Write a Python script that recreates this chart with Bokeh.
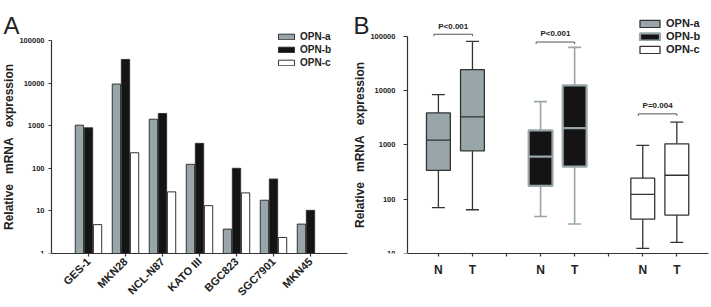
import math
from bokeh.plotting import figure
from bokeh.layouts import row
from bokeh.models import (Range1d, FixedTicker, NumeralTickFormatter,
                          ColumnDataSource, Label)
from bokeh.transform import dodge
from bokeh.core.properties import value
from bokeh.embed import file_html
from bokeh.resources import INLINE

# ---------------- data: panel A (cell lines) ----------------
cell_lines = ["GES-1", "MKN28", "NCL-N87", "KATO III", "BGC823", "SGC7901", "MKN45"]
opn_a = [1030, 9500, 1420, 124, 3.74, 17.8, 4.9]
opn_b = [890, 36000, 1940, 385, 100, 56, 10.3]
opn_c = [4.76, 232, 28, 13.3, 26.5, 2.38, float("nan")]

# ---------------- data: panel B (tissues, box plots) ----------------
isoforms = ["OPN-a", "OPN-b", "OPN-c"]
tissue = ["N", "T"]
whisker_low = [70, 64, 48, 35, 12.4, 16]
q1 = [340, 780, 177, 400, 43, 51]
median = [1230, 3300, 610, 2040, 123, 277]
q3 = [3900, 24500, 1860, 12600, 245, 1050]
whisker_high = [8500, 81000, 6300, 63000, 980, 2640]
p_labels = ["P<0.001", "P<0.001", "P=0.004"]
p_bracket_y = [110000, 79000, 3750]

y_ticks_a = [1, 10, 100, 1000, 10000, 100000]
y_ticks_b = [10, 100, 1000, 10000, 100000]
panel_letters = ["A", "B"]

FONT = "Liberation Sans"
GRAY = "#98a6a9"
BLACK = "#141414"
DARK = "#333333"
ylabel = "Relative\u00a0\u00a0\u00a0mRNA\u00a0\u00a0\u00a0expression"


def style_axes(p):
    p.xgrid.visible = False
    p.ygrid.visible = False
    p.outline_line_color = None
    for ax in (p.xaxis[0], p.yaxis[0]):
        ax.axis_line_color = DARK
        ax.axis_line_width = 1.2
        ax.major_tick_line_color = DARK
        ax.major_tick_line_width = 1.2
        ax.major_tick_in = 0
        ax.major_tick_out = 3
        ax.minor_tick_line_color = None
        ax.major_label_text_font = FONT
        ax.major_label_text_font_style = "bold"
        ax.major_label_text_color = "#222222"
        ax.axis_label_text_font = FONT
        ax.axis_label_text_font_style = "bold"
        ax.axis_label_text_color = "#222222"
    p.yaxis.axis_label = ylabel
    p.yaxis.axis_label_text_font_size = "12px"


def add_letter(p, letter, frame_w, frame_h, dx_px, baseline_px):
    """Panel letter placed in screen pixels from the frame's top-left."""
    xr, yr = p.x_range, p.y_range
    unit = frame_w / (xr.end - xr.start)
    x = xr.start + dx_px / unit
    lo, hi = math.log10(yr.start), math.log10(yr.end)
    y = 10 ** (hi - baseline_px * (hi - lo) / frame_h)
    p.add_layout(Label(x=x, y=y, text=letter, text_font=FONT,
                       text_font_size="24px", text_color="#222222",
                       text_baseline="alphabetic"))


def style_legend(p, loc, gw, gh, fs, spacing):
    lg = p.legend[0]
    lg.location = loc
    lg.glyph_width = gw
    lg.glyph_height = gh
    lg.label_height = gh
    lg.spacing = spacing
    lg.padding = 0
    lg.margin = 0
    lg.border_line_color = None
    lg.background_fill_alpha = 0
    lg.label_text_font = FONT
    lg.label_text_font_style = "bold"
    lg.label_text_font_size = fs
    lg.label_text_color = "#222222"
    lg.label_standoff = 4


# ================= Panel A =================
pA = figure(width=352, height=307, x_range=Range1d(-2.378, 7),
            y_range=Range1d(1, 10 ** 5.705), y_axis_type="log",
            output_backend="svg", toolbar_location=None,
            min_border_left=0, min_border_right=5,
            min_border_top=10, min_border_bottom=54)
style_axes(pA)

xs = list(range(len(cell_lines)))
srcA = ColumnDataSource(dict(x=xs, a=opn_a, b=opn_b, c=opn_c))
bw = 0.225
off = 0.245
pA.vbar(x=dodge("x", -off, range=pA.x_range), top="a", bottom=1, width=bw,
        source=srcA, fill_color=GRAY, line_color=DARK, line_width=1,
        legend_label="OPN-a")
pA.vbar(x="x", top="b", bottom=1, width=bw, source=srcA,
        fill_color=BLACK, line_color=DARK, line_width=1, legend_label="OPN-b")
pA.vbar(x=dodge("x", off, range=pA.x_range), top="c", bottom=1, width=bw,
        source=srcA, fill_color="white", line_color=DARK, line_width=1,
        legend_label="OPN-c")

pA.yaxis.fixed_location = -1
pA.yaxis.bounds = (y_ticks_a[0], y_ticks_a[-1])
pA.yaxis.ticker = FixedTicker(ticks=y_ticks_a, minor_ticks=[])
pA.yaxis.formatter = NumeralTickFormatter(format="0")
pA.yaxis.major_label_text_font_size = "7.5px"
pA.yaxis.major_label_standoff = 4
pA.yaxis.axis_label_standoff = 0
pA.xaxis.bounds = (-1, 7)
pA.xaxis.ticker = FixedTicker(ticks=xs, minor_ticks=[])
pA.xaxis.major_label_overrides = {i: n for i, n in zip(xs, cell_lines)}
pA.xaxis.major_label_orientation = math.pi / 4
pA.xaxis.major_label_text_font_size = "11px"
pA.xaxis.major_label_standoff = 3

style_legend(pA, (276, 185), 20, 7, "10px", 2)
add_letter(pA, panel_letters[0], 347, 243, 3, 15)

# ================= Panel B =================
pB = figure(width=359, height=307, x_range=Range1d(-1.522, 8.93),
            y_range=Range1d(10, 10 ** 5.479), y_axis_type="log",
            output_backend="svg", toolbar_location=None,
            min_border_left=0, min_border_right=3,
            min_border_top=10, min_border_bottom=54)
style_axes(pB)

styles = {
    "OPN-a": dict(fill=GRAY, line=DARK, lw=1.3, med=DARK, mlw=1.3, wlw=1.3),
    "OPN-b": dict(fill=BLACK, line=GRAY, lw=2.2, med=GRAY, mlw=2.2, wlw=1.6),
    "OPN-c": dict(fill="white", line=DARK, lw=1.3, med=DARK, mlw=1.3, wlw=1.3),
}
box_w = 0.7
cap_w = 0.38
positions = []
for gi, iso in enumerate(isoforms):
    st = styles[iso]
    idx = [2 * gi, 2 * gi + 1]
    px = [gi * 3 + 1 + k for k in range(2)]
    positions += px
    src = ColumnDataSource(dict(
        x=px,
        lo=[whisker_low[i] for i in idx], q1=[q1[i] for i in idx],
        med=[median[i] for i in idx], q3=[q3[i] for i in idx],
        hi=[whisker_high[i] for i in idx],
        xl=[v - box_w / 2 for v in px], xr=[v + box_w / 2 for v in px],
        cl=[v - cap_w / 2 for v in px], cr=[v + cap_w / 2 for v in px]))
    for y0, y1 in (("q3", "hi"), ("lo", "q1")):
        pB.segment(x0="x", y0=y0, x1="x", y1=y1, source=src,
                   line_color=st["line"], line_width=st["wlw"])
    for yy in ("hi", "lo"):
        pB.segment(x0="cl", y0=yy, x1="cr", y1=yy, source=src,
                   line_color=st["line"], line_width=st["wlw"])
    pB.vbar(x="x", bottom="q1", top="q3", width=box_w, source=src,
            fill_color=st["fill"], line_color=st["line"],
            line_width=st["lw"], legend_label=iso)
    pB.segment(x0="xl", y0="med", x1="xr", y1="med", source=src,
               line_color=st["med"], line_width=st["mlw"])

# significance brackets
br_xs, br_ys, tx, ty = [], [], [], []
for gi in range(len(isoforms)):
    xl = positions[2 * gi] - 0.13
    xr = positions[2 * gi + 1]
    yb = p_bracket_y[gi]
    leg = yb / 1.09
    br_xs.append([xl, xl, xr, xr])
    br_ys.append([leg, yb, yb, leg])
    tx.append((xl + xr) / 2)
    ty.append(yb * 1.17)
pB.multi_line(xs=br_xs, ys=br_ys, line_color="#555555", line_width=1)
pB.text(x=tx, y=ty, text=p_labels, text_font=value(FONT),
        text_font_size="8px", text_font_style="bold", text_color="#222222",
        text_align="center", text_baseline="bottom")

pB.yaxis.fixed_location = 0.09
pB.yaxis.bounds = (y_ticks_b[0], y_ticks_b[-1])
pB.yaxis.ticker = FixedTicker(ticks=y_ticks_b, minor_ticks=[])
pB.yaxis.formatter = NumeralTickFormatter(format="0")
pB.yaxis.major_label_text_font_size = "7.5px"
pB.yaxis.major_label_standoff = 8
pB.yaxis.major_tick_out = 4
pB.yaxis.axis_label_standoff = 0
pB.xaxis.bounds = (0.09, 8.93)
tick_pos = list(range(1, 9))
pB.xaxis.ticker = FixedTicker(ticks=tick_pos, minor_ticks=[])
overrides = {t: "" for t in tick_pos}
for gi in range(len(isoforms)):
    for k, t in enumerate(tissue):
        overrides[gi * 3 + 1 + k] = t
pB.xaxis.major_label_overrides = overrides
pB.xaxis.major_label_text_font_size = "12px"
pB.xaxis.major_label_standoff = 6

style_legend(pB, (285, 198), 25, 9, "11px", 1)
add_letter(pB, panel_letters[1], 356, 243, 1, 15)

layout = row(pA, pB)
open("out.html", "w").write(file_html(layout, INLINE))
